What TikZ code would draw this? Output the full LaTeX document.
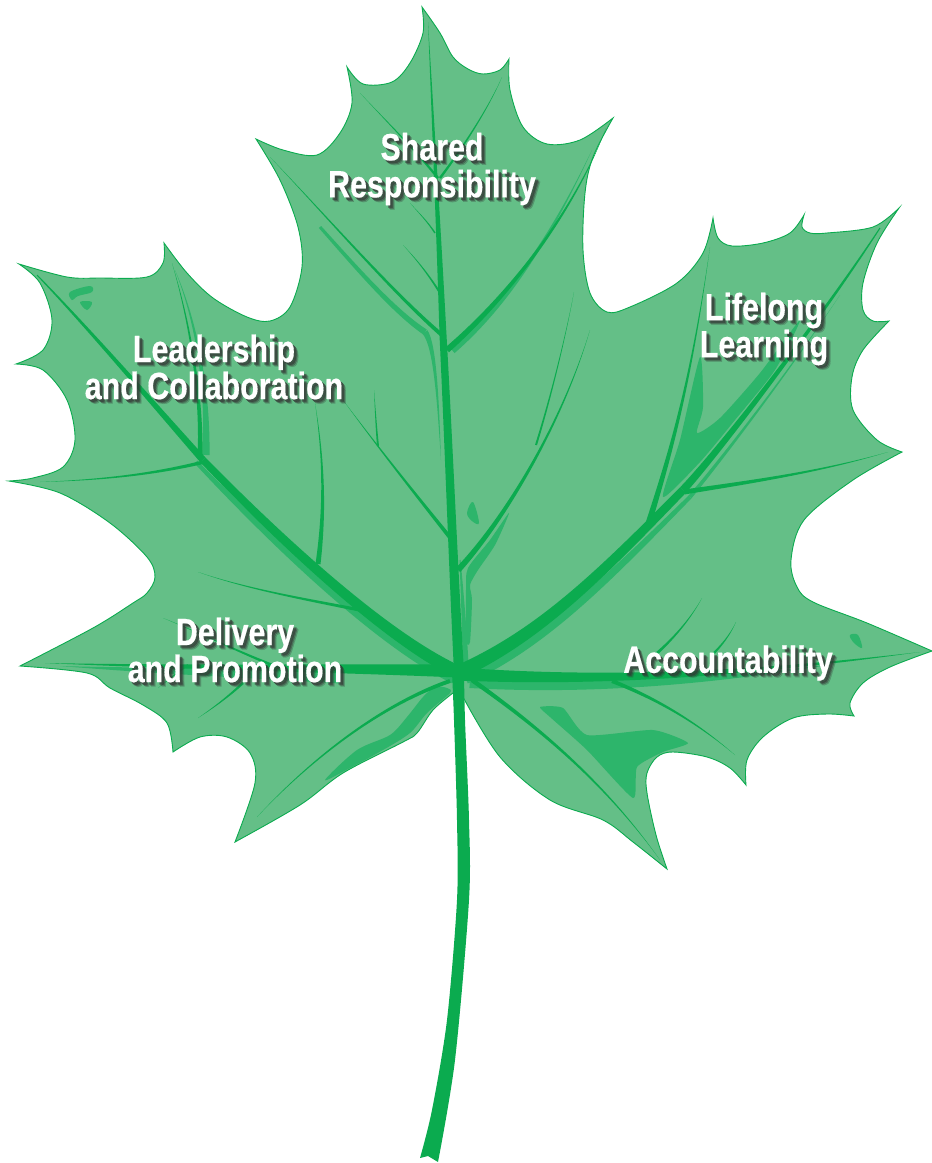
\documentclass[tikz,border=0pt]{standalone}
\usepackage{fontspec}
\setmainfont{Liberation Sans}[BoldFeatures={FakeBold=0.4}]
\definecolor{leaf}{HTML}{64BF87}
\definecolor{rib}{HTML}{0BAB4F}
\definecolor{ribl}{HTML}{2DB56B}
\makeatletter
\def\vein#1#2#3(#4,#5)(#6,#7)(#8,#9){\def\vC{#1}\def\vA{#2}\def\vB{#3}\def\vax{#4}\def\vay{#5}\def\vbx{#6}\def\vby{#7}\def\vcx{#8}\def\vcy{#9}\veinB}
\def\veinB(#1,#2){\def\vdx{#1}\def\vdy{#2}%
\pgfmathsetmacro\vla{veclen(\vbx-\vax,\vby-\vay)}%
\pgfmathsetmacro\vlb{veclen(\vdx-\vcx,\vdy-\vcy)}%
\pgfmathsetmacro\vpx{-(\vby-\vay)/\vla}\pgfmathsetmacro\vpy{(\vbx-\vax)/\vla}%
\pgfmathsetmacro\vqx{-(\vdy-\vcy)/\vlb}\pgfmathsetmacro\vqy{(\vdx-\vcx)/\vlb}%
\pgfmathsetmacro\vwa{\vA/2}\pgfmathsetmacro\vwb{\vB/2}%
\pgfmathsetmacro\vwc{(2*\vA+\vB)/6}\pgfmathsetmacro\vwd{(\vA+2*\vB)/6}%
\fill[\vC] ({\vax+\vpx*\vwa},{\vay+\vpy*\vwa}) .. controls ({\vbx+\vpx*\vwc},{\vby+\vpy*\vwc}) and ({\vcx+\vqx*\vwd},{\vcy+\vqy*\vwd}) .. ({\vdx+\vqx*\vwb},{\vdy+\vqy*\vwb})
 -- ({\vdx-\vqx*\vwb},{\vdy-\vqy*\vwb}) .. controls ({\vcx-\vqx*\vwd},{\vcy-\vqy*\vwd}) and ({\vbx-\vpx*\vwc},{\vby-\vpy*\vwc}) .. ({\vax-\vpx*\vwa},{\vay-\vpy*\vwa}) -- cycle;}
\makeatother
\newcommand\lbl[4]{%
 \foreach \sa/\sb/\so in {4.5/4.5/.25,3.5/3.5/.4,2.5/2.5/.55}
  \node[lbltext,text=black!80,text opacity=\so] at (#2+\sa,#3+\sb) {#4};
 \node[lbltext,text=white] (#1) at (#2,#3) {#4};}
\tikzset{
 lbltext/.style={font=\fontsize{38}{37}\bfseries\selectfont,xscale=.80,transform shape,align=center,inner sep=0pt},
 sm/.style={smooth,tension=.55},
 patch/.style={fill=ribl}
}
\begin{document}
\begin{tikzpicture}[x=1pt,y=-1pt]
\useasboundingbox (0,0) rectangle (932,1163);
% leaf blade
\path[fill=leaf,draw=rib,line width=.9pt,line join=miter,miter limit=30]
 plot[sm] coordinates {(422,7)(440,33)(453,57)(468,69)(483,74)(500,70)(509,59)}
 -- plot[sm] coordinates {(509,59)(510,90)(523,127)(547,144)(580,140)(613,118)}
 -- plot[sm] coordinates {(613,118)(593,157)(585,193)(583,250)(590,293)(607,312)(630,307)(677,283)(703,253)(713,218)}
 -- plot[sm] coordinates {(713,218)(718,238)(732,246)(763,243)(790,233)(804,215)}
 -- plot[sm] coordinates {(804,215)(802,227)(810,233)(827,233)(873,227)(899,208)}
 -- plot[sm] coordinates {(899,208)(877,243)(863,283)(863,310)(873,321)(889,321)}
 -- plot[sm] coordinates {(889,321)(863,350)(852,377)(853,410)(877,440)(902,452)}
 -- plot[sm] coordinates {(902,452)(853,480)(804,520)(791,560)(797,587)(813,602)(867,623)(932,651)}
 -- plot[sm] coordinates {(932,651)(890,667)(863,683)(850,703)(854,716)}
 -- plot[sm] coordinates {(854,716)(827,714)(793,718)(763,737)(747,760)(746,785)}
 -- plot[sm] coordinates {(746,785)(730,768)(707,757)(673,752)(657,757)(647,773)(647,793)(656,835)(667,869)}
 -- plot[sm] coordinates {(667,869)(633,842)(603,820)(550,800)(500,757)(463,697)}
 -- plot[sm] coordinates {(453,693)(433,710)(417,733)(403,742)(343,773)(300,805)(235,842)}
 -- plot[sm] coordinates {(235,842)(255,783)(250,753)(227,737)(200,737)(173,752)}
 -- plot[sm] coordinates {(173,752)(167,723)(143,705)(110,688)(87,673)(20,666)}
 -- plot[sm] coordinates {(20,666)(93,628)(133,603)(147,593)(155,577)(147,557)(110,523)(60,493)(9,481)}
 -- plot[sm] coordinates {(9,481)(33,478)(63,467)(75,440)(67,400)(43,370)(16,364)}
 -- plot[sm] coordinates {(16,364)(43,350)(52,320)(40,283)(19,264)}
 -- plot[sm] coordinates {(19,264)(67,277)(100,278)(147,277)(163,263)(164,243)}
 -- plot[sm] coordinates {(164,243)(187,273)(213,298)(247,317)(270,321)(290,307)(302,267)(298,227)(280,180)(256,139)}
 -- plot[sm] coordinates {(256,139)(283,150)(317,155)(340,133)(352,103)(347,67)}
 -- plot[sm] coordinates {(347,67)(363,84)(392,82)(410,63)(423,33)(422,7)}
 -- cycle;
% lighter patches
\fill[patch] plot[smooth cycle,tension=.35] coordinates {(540,707)(563,708)(587,735)(653,730)(688,743)(663,752)(637,767)(633,798)(587,750)(550,717)};
\fill[patch] plot[smooth cycle,tension=.5] coordinates {(447,688)(435,687)(423,697)(407,717)(390,735)(357,750)(325,780)(350,768)(383,750)(410,733)(427,713)(450,693)};
\fill[patch] plot[smooth cycle,tension=.4] coordinates {(700,357)(703,407)(697,433)(720,418)(760,373)(800,320)(775,370)(735,420)(700,462)(663,497)(680,440)};
\fill[patch] plot[smooth cycle,tension=.4] coordinates {(470,642)(472,600)(470,585)(478,570)(495,545)(509,513)(490,540)(468,568)(466,590)(466,640)};
\fill[patch] plot[smooth cycle,tension=.6] coordinates {(473,502)(467,513)(472,521)(479,523)};
\fill[patch] plot[smooth cycle,tension=.6] coordinates {(850,635)(858,635)(862,648)(853,642)};
\fill[patch] plot[smooth cycle,tension=.6] coordinates {(70,292)(90,286)(92,292)(78,296)(72,300)};
\fill[patch] plot[smooth cycle,tension=.6] coordinates {(80,302)(92,302)(87,310)};
\vein{ribl}{6}{3}(425,332)(395,312)(360,272)(320,227)
\vein{ribl}{6}{0}(425,332)(435,345)(438,400)(441,460)
% lighter stripes beside the main ribs
\vein{ribl}{14}{4}(455,677)(385,645)(285,555)(196,462)
\vein{ribl}{14}{4}(465,677)(545,642)(607,580)(690,497)
\vein{ribl}{4}{0}(690,497)(725,455)(790,370)(840,295)
\vein{ribl}{17}{0}(340,675)(250,672)(170,672)(60,666)
\vein{ribl}{16}{0}(470,680)(600,690)(720,680)(835,664)
\vein{ribl}{6}{1}(466,672)(464,620)(462,590)(460,560)
\vein{ribl}{8}{0}(452,350)(500,310)(545,250)(592,150)
\vein{ribl}{7}{0}(206,455)(208,400)(200,330)(175,270)
% ribs
\vein{rib}{13}{7}(458,672)(390,640)(290,550)(203,460)
\vein{rib}{7}{1}(203,460)(150,400)(90,330)(37,275)
\vein{rib}{14}{8}(459,672)(540,635)(600,575)(683,490)
\vein{rib}{8}{1}(683,490)(720,450)(820,320)(880,228)
\vein{rib}{10}{7}(459,672)(453,560)(449,450)(443,335)
\vein{rib}{7}{0}(443,335)(439,240)(433,120)(428,22)
\vein{rib}{13}{0}(458,671)(340,668)(200,668)(45,663)
\vein{rib}{13}{0}(458,674)(600,682)(740,675)(920,652)
\vein{rib}{6}{0}(447,350)(510,295)(575,210)(606,128)
\vein{rib}{4}{0}(443,336)(395,295)(330,220)(270,157)
\vein{rib}{2}{0}(440,293)(427,272)(415,258)(403,245)
\vein{rib}{2.5}{0}(438,178)(415,150)(390,125)(360,93)
\vein{rib}{2.5}{0}(440,178)(465,145)(490,105)(502,77)
\vein{rib}{1.5}{0}(435,233)(428,222)(418,212)(410,203)
\vein{rib}{4}{0}(452,540)(420,500)(380,450)(343,400)
\vein{rib}{2}{0}(378,446)(376,425)(375,405)(374,390)
\vein{rib}{6}{0}(458,570)(500,525)(560,430)(590,330)
\vein{rib}{2}{0}(536,445)(550,400)(565,340)(574,292)
\vein{rib}{5}{0}(200,459)(202,400)(192,330)(172,263)
\vein{rib}{3.5}{0}(204,462)(150,475)(100,480)(40,482)
\vein{rib}{5}{0}(318,564)(325,510)(324,460)(315,403)
\vein{rib}{3.5}{0}(370,612)(310,600)(250,590)(198,572)
\vein{rib}{3}{0}(285,670)(245,655)(205,635)(163,618)
\vein{rib}{2.5}{0}(243,683)(228,697)(213,708)(198,718)
\vein{rib}{2}{0}(188,665)(178,672)(168,680)(158,688)
\vein{rib}{4}{0}(450,681)(380,705)(310,760)(257,817)
\vein{rib}{5}{0}(684,492)(750,482)(820,472)(888,452)
\vein{rib}{6}{0}(649,522)(668,460)(690,390)(710,247)
\vein{rib}{4}{0}(612,681)(660,700)(700,725)(735,755)
\vein{rib}{3}{0}(655,655)(672,640)(690,620)(702,598)
\vein{rib}{2.5}{0}(712,655)(722,645)(730,635)(736,622)
\vein{rib}{4.5}{0}(472,680)(550,735)(610,790)(660,860)
% stem
\fill[rib] plot[smooth,tension=.5] coordinates {(452,672)(454,720)(457,820)(457,900)(447,1020)(432,1110)(420,1158)}
 -- (428,1156) -- (438,1162)
 -- plot[smooth,tension=.5] coordinates {(438,1162)(455,1060)(469,900)(469,820)(465,720)(464,672)} -- cycle;
% labels
\lbl{shared}{432}{169}{Shared\\Responsibility}
\lbl{lifelong}{764}{329}{Lifelong\\Learning}
\lbl{leadership}{214}{367}{Leadership\\and Collaboration}
\lbl{delivery}{235}{650}{Delivery\\and Promotion}
\lbl{account}{728}{663}{Accountability}
\end{tikzpicture}
\end{document}
